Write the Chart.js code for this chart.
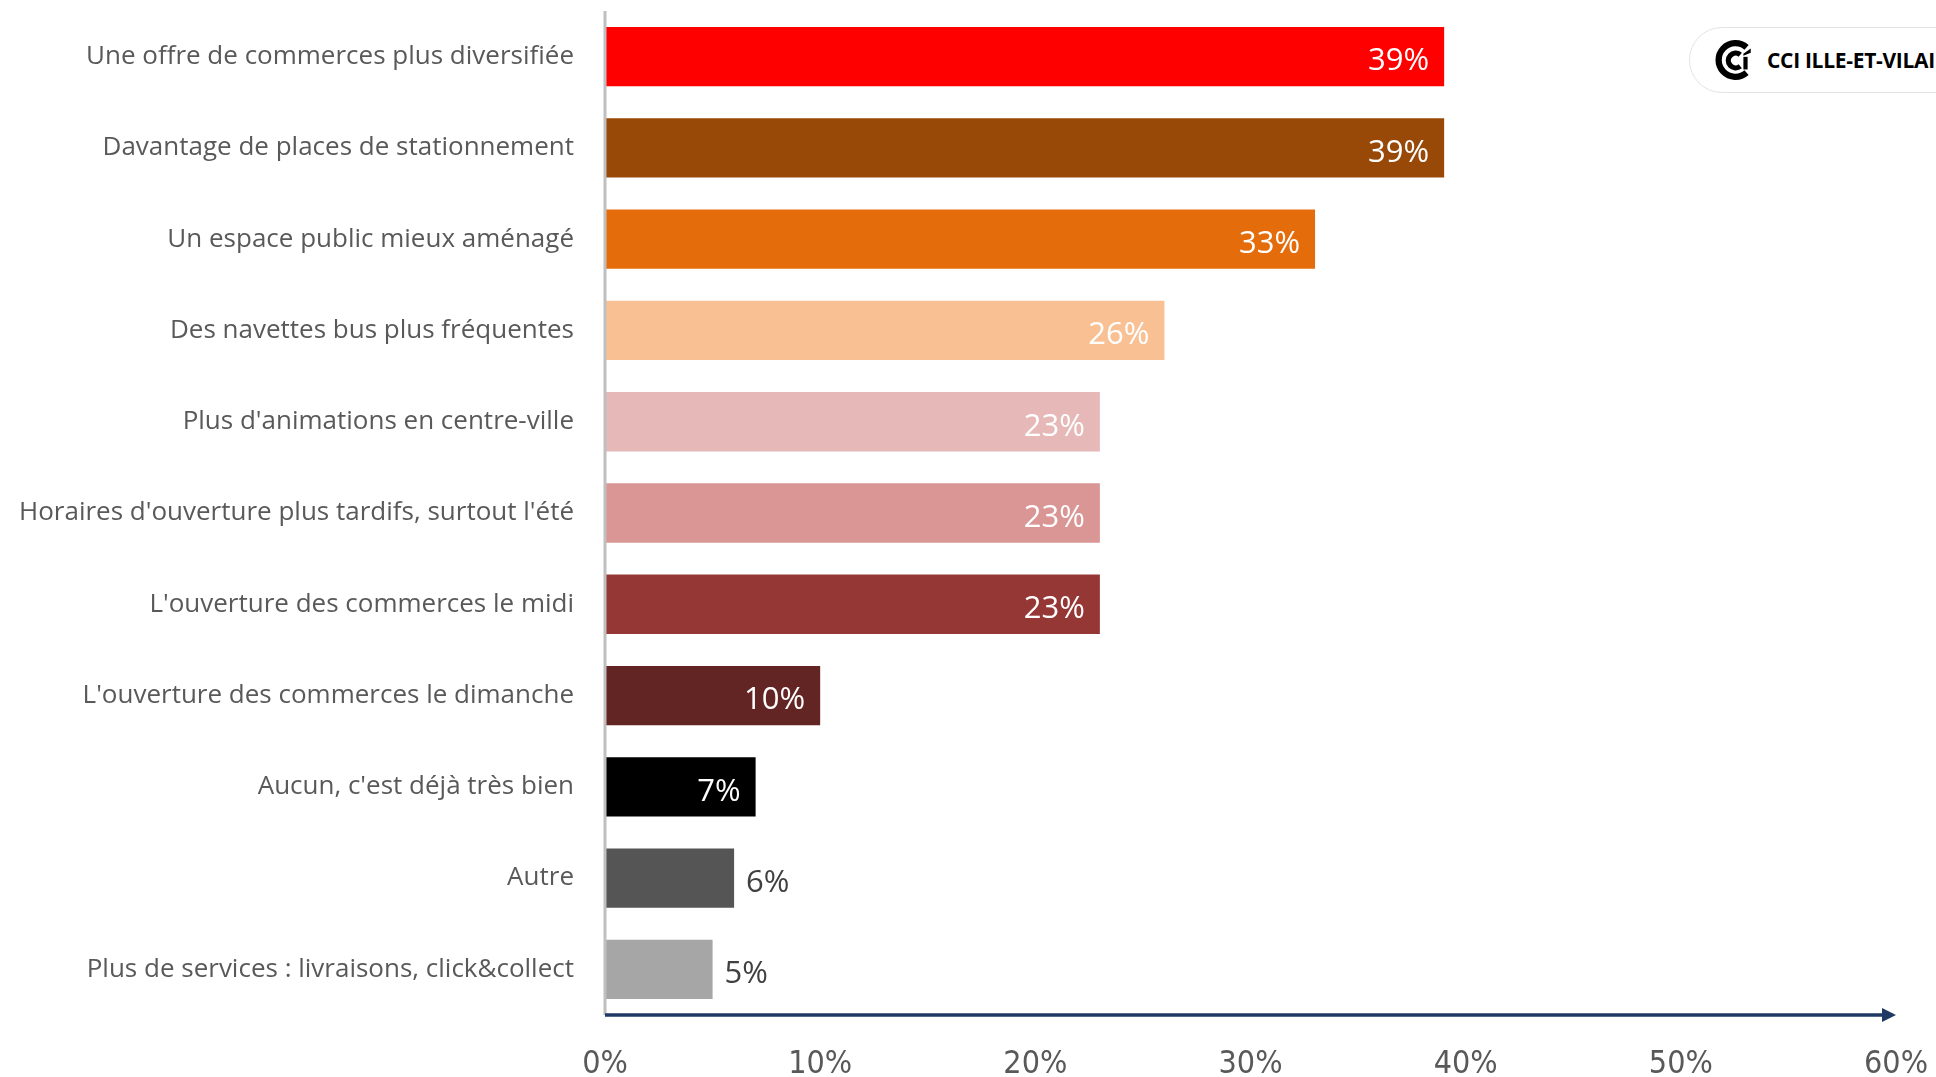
<!DOCTYPE html>
<html lang="fr">
<head>
<meta charset="utf-8">
<script src="https://cdn.jsdelivr.net/npm/chart.js@4/dist/chart.umd.min.js"></script>
<style>
  html, body { margin: 0; padding: 0; background: #fff; overflow: hidden; }
  #wrap { position: relative; width: 1936px; height: 1077px; }
  #logo {
    position: absolute; left: 1689px; top: 27px; width: 320px; height: 64px;
    border: 1px solid #e3e3e3; border-radius: 33px; background: #fff;
    display: flex; align-items: center; white-space: nowrap;
    font-family: "Open Sans", sans-serif; font-weight: 700; font-size: 21px; color: #000;
    letter-spacing: -0.3px;
  }
  #logo svg { margin-left: 25px; margin-right: 12px; }
</style>
</head>
<body>
<div id="wrap">
  <canvas id="barChart" width="1936" height="1077"></canvas>
  <div id="logo">
    <svg width="40" height="42" viewBox="0 0 38 40">
      <path d="M30 8 A16 16 0 1 0 30 32" fill="none" stroke="#000" stroke-width="6"/>
      <path d="M24 15 A7 7 0 1 0 24 26" fill="none" stroke="#000" stroke-width="5"/>
      <rect x="27" y="17" width="4" height="12" fill="#000"/>
      <polygon points="27,14 34,9 34,13 27,16" fill="#000"/>
    </svg>
    CCI ILLE-ET-VILAINE
  </div>
</div>
<script>
// 카테고리와 값
const categories = [
    "Une offre de commerces plus diversifiée",
    "Davantage de places de stationnement",
    "Un espace public mieux aménagé",
    "Des navettes bus plus fréquentes",
    "Plus d'animations en centre-ville",
    "Horaires d'ouverture plus tardifs, surtout l'été",
    "L'ouverture des commerces le midi",
    "L'ouverture des commerces le dimanche",
    "Aucun, c'est déjà très bien",
    "Autre",
    "Plus de services : livraisons, click&collect"
];
const values = [39, 39, 33, 26, 23, 23, 23, 10, 7, 6, 5];
const barColors = ["#FF0000", "#984807", "#E46C0A", "#F9C094", "#E6B9B8", "#D99694",
                   "#953735", "#632523", "#000000", "#555555", "#A6A6A6"];
const tickValues = [0, 10, 20, 30, 40, 50, 60];

// 축 선과 화살표 그리기
const axisPlugin = {
    id: 'axisPlugin',
    afterDraw(chart) {
        const { ctx, chartArea } = chart;
        ctx.save();
        // 세로 회색 축
        ctx.strokeStyle = '#BFBFBF';
        ctx.lineWidth = 3;
        ctx.beginPath();
        ctx.moveTo(chartArea.left, chartArea.top);
        ctx.lineTo(chartArea.left, chartArea.bottom);
        ctx.stroke();
        // 가로 축 + 화살표
        ctx.strokeStyle = '#1F3864';
        ctx.fillStyle = '#1F3864';
        ctx.lineWidth = 3.5;
        ctx.beginPath();
        ctx.moveTo(chartArea.left, chartArea.bottom);
        ctx.lineTo(chartArea.right - 10, chartArea.bottom);
        ctx.stroke();
        ctx.beginPath();
        ctx.moveTo(chartArea.right, chartArea.bottom);
        ctx.lineTo(chartArea.right - 14, chartArea.bottom - 7);
        ctx.lineTo(chartArea.right - 14, chartArea.bottom + 7);
        ctx.closePath();
        ctx.fill();
        ctx.restore();
    }
};

// 막대 위의 값 라벨
const labelPlugin = {
    id: 'labelPlugin',
    afterDatasetsDraw(chart) {
        const { ctx } = chart;
        const meta = chart.getDatasetMeta(0);
        ctx.save();
        ctx.font = '31px "Open Sans", sans-serif';
        ctx.textBaseline = 'middle';
        meta.data.forEach((bar, i) => {
            const v = values[i];
            if (v >= 7) {
                ctx.fillStyle = '#FFFFFF';
                ctx.textAlign = 'right';
                ctx.fillText(v + '%', bar.x - 15, bar.y + 5);
            } else {
                ctx.fillStyle = '#404040';
                ctx.textAlign = 'left';
                ctx.fillText(v + '%', bar.x + 12, bar.y + 5);
            }
        });
        ctx.restore();
    }
};

const ctx = document.getElementById('barChart').getContext('2d');
new Chart(ctx, {
    type: 'bar',
    data: {
        labels: categories,
        datasets: [{
            data: values,
            backgroundColor: barColors,
            borderWidth: 0,
            categoryPercentage: 1,
            barPercentage: 0.65
        }]
    },
    options: {
        indexAxis: 'y',
        responsive: false,
        animation: false,
        layout: { padding: { top: 11, right: 40, left: 0, bottom: 0 } },
        plugins: { legend: { display: false }, tooltip: { enabled: false } },
        scales: {
            x: {
                min: 0,
                max: 60,
                grid: { display: false, drawTicks: false },
                border: { display: false },
                afterBuildTicks(axis) {
                    axis.ticks = tickValues.map(v => ({ value: v }));
                },
                ticks: {
                    callback: v => v + '%',
                    color: '#595959',
                    padding: 30,
                    maxRotation: 0,
                    font: { family: '"Liberation Sans Narrow", "DejaVu Sans Condensed", sans-serif', size: 32 }
                },
                afterFit(axis) {
                    axis.height = 62;
                    axis.paddingLeft = 0;
                    axis.paddingRight = 0;
                }
            },
            y: {
                grid: { display: false, drawTicks: false },
                border: { display: false },
                ticks: {
                    color: '#595959',
                    padding: 31,
                    font: { family: '"Open Sans", sans-serif', size: 26 }
                },
                afterFit(axis) {
                    axis.width = 605;
                    axis.paddingTop = 0;
                    axis.paddingBottom = 0;
                }
            }
        }
    },
    plugins: [axisPlugin, labelPlugin]
});
</script>
</body>
</html>
